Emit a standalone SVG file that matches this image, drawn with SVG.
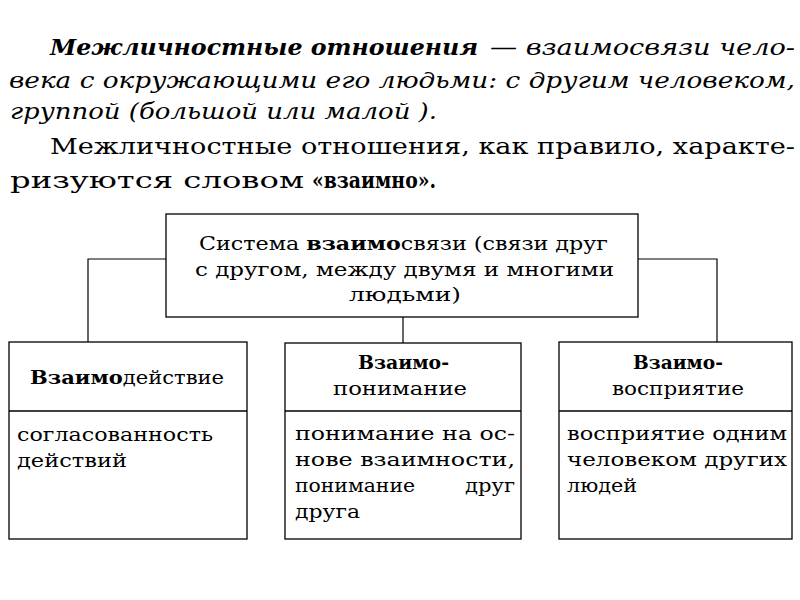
<svg xmlns="http://www.w3.org/2000/svg" width="800" height="600" viewBox="0 0 800 600">
<style>
  text { font-family: "DejaVu Serif", "Liberation Serif", serif; fill: #000; }
  .p { font-size: 22px; }
  .bi { font-style: italic; font-weight: bold; }
  .i { font-style: italic; }
  .b { font-weight: bold; }
  .t { font-size: 19px; }
  .box { fill: #fff; stroke: #000; stroke-width: 1.3; }
  .div { stroke: #000; stroke-width: 1.3; }
  .conn { fill: none; stroke: #000; stroke-width: 1.2; }
</style>
<rect width="800" height="600" fill="#fff"/>

<g id="intro">
  <text class="p bi" x="50" y="55" textLength="428" lengthAdjust="spacingAndGlyphs">Межличностные отношения</text>
  <text class="p i" x="490" y="55" textLength="305" lengthAdjust="spacingAndGlyphs">— взаимосвязи чело-</text>
  <text class="p i" x="9" y="88" textLength="786" lengthAdjust="spacingAndGlyphs">века с окружающими его людьми: с другим человеком,</text>
  <text class="p i" x="10" y="119" textLength="427" lengthAdjust="spacingAndGlyphs">группой (большой или малой ).</text>
  <text class="p" x="50" y="154" textLength="745" lengthAdjust="spacingAndGlyphs">Межличностные отношения, как правило, характе-</text>
  <text class="p" x="10" y="188" textLength="294" lengthAdjust="spacingAndGlyphs">ризуются словом</text>
  <text class="p b" x="312" y="188" textLength="124" lengthAdjust="spacingAndGlyphs">«взаимно».</text>
</g>

<g id="connectors">
  <polyline class="conn" points="166,259 88,259 88,342"/>
  <polyline class="conn" points="638,259 717,259 717,342"/>
  <line class="conn" x1="403" y1="317" x2="403" y2="343"/>
</g>

<g id="node-system">
  <rect class="box" x="166" y="214" width="472" height="103"/>
  <text class="t" x="199" y="250" textLength="409" lengthAdjust="spacingAndGlyphs">Система <tspan class="b">взаимо</tspan>связи (связи друг</text>
  <text class="t" x="195" y="276" textLength="419" lengthAdjust="spacingAndGlyphs">с другом, между двумя и многими</text>
  <text class="t" x="349" y="301" textLength="112" lengthAdjust="spacingAndGlyphs">людьми)</text>
</g>

<g id="node-interaction">
  <rect class="box" x="9" y="342" width="238" height="197"/>
  <line class="div" x1="9" y1="411" x2="247" y2="411"/>
  <text class="t" x="30" y="384" textLength="194" lengthAdjust="spacingAndGlyphs"><tspan class="b">Взаимо</tspan>действие</text>
  <text class="t" x="17" y="441" textLength="196" lengthAdjust="spacingAndGlyphs">согласованность</text>
  <text class="t" x="17" y="467" textLength="110" lengthAdjust="spacingAndGlyphs">действий</text>
</g>

<g id="node-understanding">
  <rect class="box" x="285" y="343" width="236" height="196"/>
  <line class="div" x1="285" y1="411" x2="521" y2="411"/>
  <text class="t b" x="358" y="369" textLength="91" lengthAdjust="spacingAndGlyphs">Взаимо-</text>
  <text class="t" x="333" y="395" textLength="134" lengthAdjust="spacingAndGlyphs">понимание</text>
  <text class="t" x="295" y="440" textLength="220" lengthAdjust="spacingAndGlyphs">понимание на ос-</text>
  <text class="t" x="295" y="466" textLength="220" lengthAdjust="spacingAndGlyphs">нове взаимности,</text>
  <text class="t" x="295" y="492" textLength="120" lengthAdjust="spacingAndGlyphs">понимание</text>
  <text class="t" x="465" y="492" textLength="50" lengthAdjust="spacingAndGlyphs">друг</text>
  <text class="t" x="295" y="518" textLength="65" lengthAdjust="spacingAndGlyphs">друга</text>
</g>

<g id="node-perception">
  <rect class="box" x="559" y="342" width="233" height="197"/>
  <line class="div" x1="559" y1="411" x2="792" y2="411"/>
  <text class="t b" x="633" y="369" textLength="90" lengthAdjust="spacingAndGlyphs">Взаимо-</text>
  <text class="t" x="612" y="395" textLength="132" lengthAdjust="spacingAndGlyphs">восприятие</text>
  <text class="t" x="567" y="440" textLength="220" lengthAdjust="spacingAndGlyphs">восприятие одним</text>
  <text class="t" x="567" y="466" textLength="220" lengthAdjust="spacingAndGlyphs">человеком других</text>
  <text class="t" x="567" y="492" textLength="70" lengthAdjust="spacingAndGlyphs">людей</text>
</g>
</svg>
